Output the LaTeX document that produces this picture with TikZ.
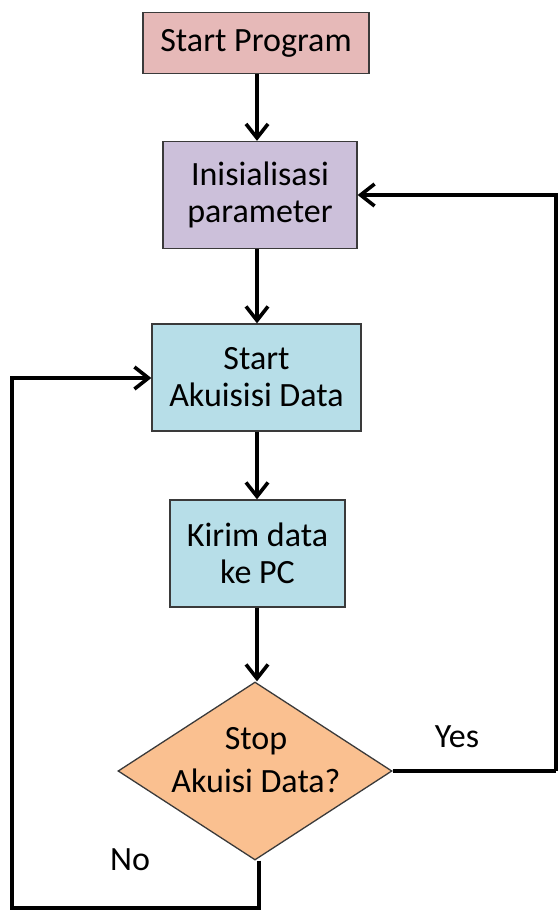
\documentclass[tikz,border=0pt]{standalone}
\usepackage{fontspec}
\setmainfont{Carlito}
\usetikzlibrary{shapes.geometric,arrows.meta}
\definecolor{startpink}{HTML}{E6B9B8}
\definecolor{initlav}{HTML}{CCC0DA}
\definecolor{procblue}{HTML}{B7DEE8}
\definecolor{decorange}{HTML}{FAC090}
\definecolor{edgegray}{HTML}{3A3A3A}
\tikzset{
  box/.style={draw=edgegray, line width=1.3pt, inner sep=0pt, align=center,
    font=\fontsize{34}{37}\selectfont},
  decision/.style={diamond, draw=edgegray, line width=1.3pt, inner sep=0pt,
    minimum width=274pt, minimum height=178pt, fill=decorange},
  flow/.style={line width=3.6pt, -{Straight Barb[length=14pt,width=22pt,line width=3.6pt]}},
  wire/.style={line width=3.6pt},
  lbl/.style={font=\fontsize{34}{37}\selectfont, inner sep=0pt}
}
\begin{document}
\begin{tikzpicture}[x=1pt,y=-1pt]
  \useasboundingbox (0,0) rectangle (557,910);
  % process boxes
  \node[box, fill=startpink, minimum width=226pt, minimum height=61pt] (start) at (256,43) {Start Program};
  \node[box, fill=initlav, minimum width=194pt, minimum height=107pt] (init) at (260,195) {Inisialisasi\\parameter};
  \node[box, fill=procblue, minimum width=209pt, minimum height=107pt] (acq) at (256.5,377.5) {Start\\Akuisisi Data};
  \node[box, fill=procblue, minimum width=175pt, minimum height=107pt] (send) at (257.5,553.5) {Kirim data\\ke PC};
  % decision
  \node[decision] (stop) at (255,771) {};
  \node[lbl, align=center, font=\fontsize{34}{43}\selectfont] (stoptxt) at (256,760) {Stop\\Akuisi Data?};
  % branch labels
  \node[lbl] (yes) at (457,737) {Yes};
  \node[lbl] (no) at (130,860) {No};
  % loop corners
  \coordinate (yr) at (556,771);
  \coordinate (yt) at (556,195);
  \coordinate (nb) at (259,908);
  \coordinate (nl) at (12,908);
  \coordinate (nt) at (12,378);
  % main flow
  \draw[flow] (start.south -| 257,0) -- (init.north -| 257,0);
  \draw[flow] (init.south -| 257,0) -- (acq.north -| 257,0);
  \draw[flow] (acq.south -| 257,0) -- (send.north -| 257,0);
  \draw[flow] (send.south -| 257,0) -- (stop.north -| 257,0);
  % yes: back to initialisation
  \draw[wire] (stop.east) -- (yr);
  \draw[flow, line join=miter] (yr) -- (yt) -- (init.east);
  % no: back to acquisition
  \draw[flow, line join=miter] (stop.south -| nb) -- (nb) -- (nl) -- (nt) -- (acq.west |- nt);
\end{tikzpicture}
\end{document}
